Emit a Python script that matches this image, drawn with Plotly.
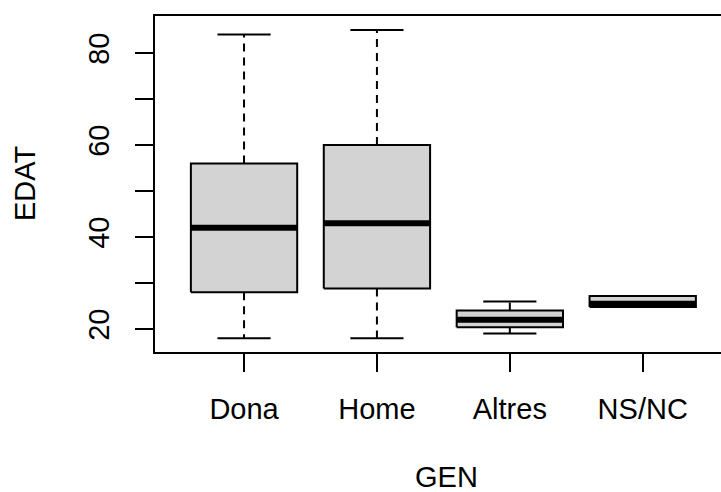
import plotly.graph_objects as go

categories = ["Dona", "Home", "Altres", "NS/NC"]
lower_whisker = [18, 18, 19, 24.8]
q1 = [28, 28.8, 20.4, 24.8]
median = [42, 43, 22, 25.5]
q3 = [56, 60, 24, 27.2]
upper_whisker = [84, 85, 26, 27.2]

y_tickvals = [20, 30, 40, 50, 60, 70, 80]
y_ticktext = ["20", "", "40", "", "60", "", "80"]

FONT = "Liberation Sans, Arial, sans-serif"
FS = 29
BOXW = 0.8
CAPW = 0.4

fig = go.Figure()

for i, cat in enumerate(categories):
    x = i + 1
    # whiskers (dashed)
    fig.add_trace(go.Scatter(x=[x, x, None, x, x],
                             y=[q3[i], upper_whisker[i], None, q1[i], lower_whisker[i]],
                             mode="lines", line=dict(color="black", width=2, dash="8px,6px"),
                             hoverinfo="skip", showlegend=False))
    # caps
    fig.add_trace(go.Scatter(x=[x - CAPW / 2, x + CAPW / 2, None, x - CAPW / 2, x + CAPW / 2],
                             y=[upper_whisker[i], upper_whisker[i], None, lower_whisker[i], lower_whisker[i]],
                             mode="lines", line=dict(color="black", width=2),
                             hoverinfo="skip", showlegend=False))
    # box
    fig.add_trace(go.Scatter(x=[x - BOXW / 2, x + BOXW / 2, x + BOXW / 2, x - BOXW / 2, x - BOXW / 2],
                             y=[q1[i], q1[i], q3[i], q3[i], q1[i]],
                             mode="lines", fill="toself", fillcolor="#D3D3D3",
                             line=dict(color="black", width=2),
                             name=cat, showlegend=False))
    # median
    fig.add_trace(go.Scatter(x=[x - BOXW / 2, x + BOXW / 2], y=[median[i], median[i]],
                             mode="lines", line=dict(color="black", width=6),
                             hoverinfo="skip", showlegend=False))

fig.update_layout(
    width=721, height=492,
    margin=dict(l=155, r=0, t=16, b=140),
    paper_bgcolor="white", plot_bgcolor="white",
    font=dict(family=FONT, size=FS, color="black"),
    xaxis=dict(range=[0.33, 4.589], tickvals=[1, 2, 3, 4], ticktext=categories,
               showgrid=False, zeroline=False, showline=True, mirror=True,
               linecolor="black", linewidth=2, ticks="outside", ticklen=18,
               tickwidth=2, tickcolor="black", ticklabelstandoff=12,
               tickfont=dict(family=FONT, size=FS, color="black")),
    yaxis=dict(range=[15.0, 88.04], tickvals=y_tickvals, ticktext=y_ticktext,
               showgrid=False, zeroline=False, showline=True,
               linecolor="black", linewidth=2, ticks="outside", ticklen=18,
               tickwidth=2, tickcolor="black", tickangle=-90, ticklabelstandoff=14,
               tickfont=dict(family=FONT, size=FS, color="black")),
    annotations=[
        dict(text="EDAT", xref="paper", yref="paper", x=(25 - 155) / 566, y=0.5,
             showarrow=False, textangle=-90, xanchor="center", yanchor="middle",
             font=dict(family=FONT, size=FS, color="black")),
        dict(text="GEN", xref="paper", yref="paper", x=(446 - 155) / 566, y=(352 - 477) / 336,
             showarrow=False, xanchor="center", yanchor="middle",
             font=dict(family=FONT, size=FS, color="black")),
    ],
)

fig.write_html("out.html")
